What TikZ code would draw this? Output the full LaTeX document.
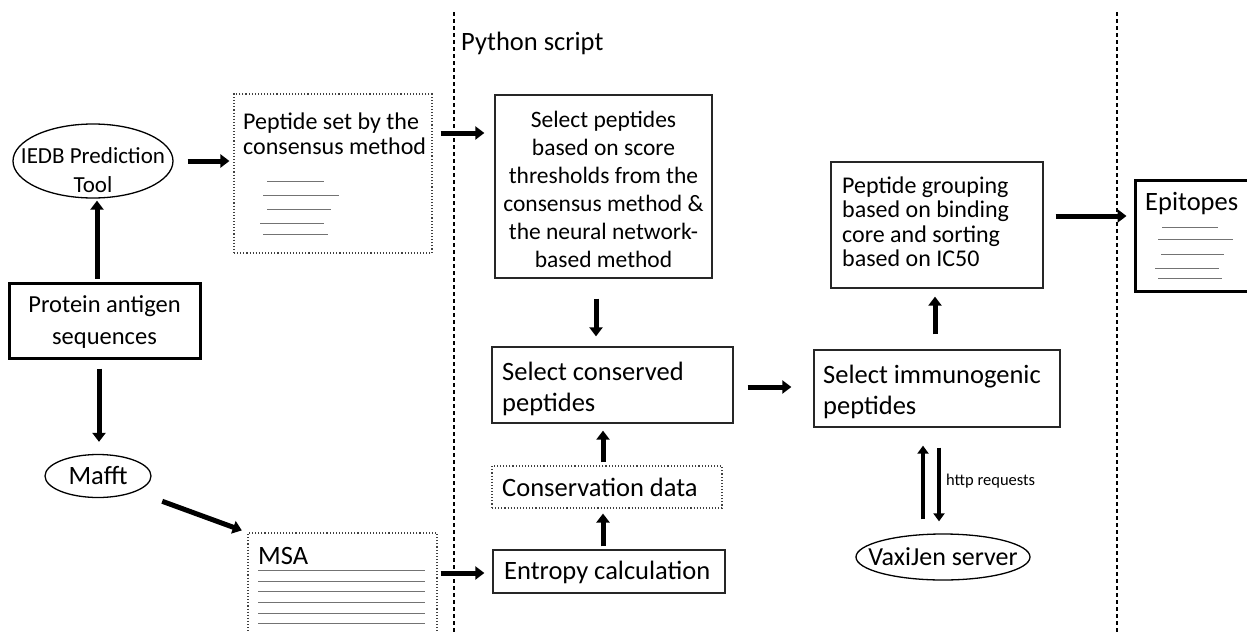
\documentclass[tikz,border=0pt]{standalone}
\usepackage{fontspec}
\setmainfont{Carlito}
\usetikzlibrary{arrows.meta,shapes.geometric,calc}
\begin{document}
\begin{tikzpicture}[x=1pt,y=-1pt,
  txt/.style={font=\fontsize{26.5}{31}\selectfont, inner sep=0pt},
  box/.style={draw=black!85, line width=1.3pt, inner sep=0pt},
  dotbox/.style={draw=black!75, line width=1.1pt, dotted, inner sep=0pt},
  thickbox/.style={draw=black, line width=3pt, inner sep=0pt},
  ell/.style={ellipse, draw=black, line width=1.3pt, inner sep=0pt},
  arr/.style={line width=5pt, -{Triangle[length=9pt,width=13pt]}},
  arrs/.style={line width=4pt, -{Triangle[length=8pt,width=11pt]}},
  gl/.style={draw=black!55, line width=1pt},
  sep/.style={line width=1.2pt, dash pattern=on 4pt off 3pt}
]
\useasboundingbox (0,0) rectangle (1247,632);
\clip (0,0) rectangle (1247,632);

% separators
\coordinate (s1t) at (454,12);
\coordinate (s1b) at (454,632);
\coordinate (s2t) at (1117,12);
\coordinate (s2b) at (1117,632);
\draw[sep] (s1t) -- (s1b);
\draw[sep] (s2t) -- (s2b);
\node[txt, anchor=west] (python) at (461,43) {Python script};

% left column
\node[ell, minimum width=160, minimum height=74] (iedb) at (93,161) {};
\node[txt, align=center, font=\fontsize{23}{29}\selectfont] (iedbtxt) at (93,170) {IEDB Prediction\\Tool};
\node[thickbox, minimum width=191, minimum height=75] (protein) at (104.5,320.5) {};
\node[txt, align=center, font=\fontsize{24.5}{32}\selectfont] (proteintxt) at (104.5,322) {Protein antigen\\sequences};
\node[ell, minimum width=106, minimum height=43, txt] (mafft) at (98,476) {Mafft};

% peptide set box
\node[dotbox, minimum width=198, minimum height=159] (pepset) at (333,173.5) {};
\node[txt, anchor=north west, align=left, font=\fontsize{24}{25}\selectfont] (pepsettxt) at (243,113) {Peptide set by the\\consensus method};
\draw[gl] (267,181) -- (324,181);
\draw[gl] (263,195) -- (339,195);
\draw[gl] (267,209) -- (331,209);
\draw[gl] (260,223) -- (324,223);
\draw[gl] (263,234) -- (328,234);

% MSA box
\node[dotbox, minimum width=189, minimum height=120] (msa) at (342.5,593) {};
\node[txt, anchor=north west] (msatxt) at (258,547) {MSA};
\draw[gl] (258,570) -- (425,570);
\draw[gl] (258,581) -- (425,581);
\draw[gl] (258,591) -- (425,591);
\draw[gl] (258,602) -- (425,602);
\draw[gl] (258,613) -- (425,613);
\draw[gl] (258,623) -- (425,623);

% python column
\node[box, minimum width=217, minimum height=183] (selpep) at (603.5,186.5) {};
\node[txt, align=center, font=\fontsize{23.5}{28}\selectfont] (selpeptxt) at (603.5,189)
  {Select peptides\\based on score\\thresholds from the\\consensus method \&\\the neural network-\\based method};
\node[box, minimum width=241, minimum height=76] (selcons) at (612.5,385) {};
\node[txt, anchor=west, align=left] (selconstxt) at (502,389) {Select conserved\\peptides};
\node[dotbox, minimum width=230, minimum height=42] (consdata) at (607,487) {};
\node[txt, anchor=west] (consdatatxt) at (502,487) {Conservation data};
\node[box, minimum width=232, minimum height=43] (entropy) at (609,571.5) {};
\node[txt, anchor=west] (entropytxt) at (504,572) {Entropy calculation};

% right column
\node[box, minimum width=246, minimum height=77] (immuno) at (937,388.5) {};
\node[txt, anchor=west, align=left] (immunotxt) at (823,392) {Select immunogenic\\peptides};
\node[box, minimum width=212, minimum height=126] (group) at (937,225) {};
\node[txt, anchor=west, align=left, font=\fontsize{24}{24.5}\selectfont] (grouptxt) at (842,222) {Peptide grouping\\based on binding\\core and sorting\\based on IC50};
\node[ell, minimum width=174, minimum height=46] (vaxi) at (943,557) {};
\node[txt, font=\fontsize{26}{30}\selectfont] (vaxitxt) at (943,557) {VaxiJen server};
\node[txt, anchor=west, font=\fontsize{16.5}{18}\selectfont] (http) at (946,481) {http requests};

% epitopes
\node[thickbox, minimum width=130, minimum height=111] (epit) at (1200,235.5) {};
\node[txt, anchor=north west] (epittxt) at (1145,192) {Epitopes};
\draw[gl] (1162,227) -- (1218,227);
\draw[gl] (1158,239) -- (1233,239);
\draw[gl] (1161,254) -- (1224,254);
\draw[gl] (1155,268) -- (1219,268);
\draw[gl] (1158,278) -- (1222,278);

% arrows
\draw[arr, shorten <=3pt, shorten >=2pt] ([xshift=4pt]protein.north -| iedb.south) -- ([xshift=4pt]iedb.south);
\draw[arr, shorten <=9pt, shorten >=12pt] ([xshift=-5.5pt]protein.south) -- ([xshift=-5.5pt]protein.south |- mafft.north);
\draw[arr, shorten <=14pt, shorten >=4pt] (iedb.east) -- (iedb.east -| pepset.west);
\draw[arr, shorten <=8pt, shorten >=10pt] ([yshift=40.5pt]pepset.east) -- ([yshift=40.5pt]pepset.east -| selpep.west);
\draw[arr, shorten <=28pt, shorten >=6pt] (mafft.south east) -- (msa.north west);
\draw[arr, shorten <=3pt, shorten >=8pt] ([yshift=-1.5pt]entropy.west -| msa.east) -- ([yshift=-1.5pt]entropy.west);
\draw[arr, shorten <=3pt, shorten >=5pt] ([xshift=-6pt]entropy.north) -- ([xshift=-6pt]entropy.north |- consdata.south);
\draw[arr, shorten <=3pt, shorten >=7pt] ([xshift=-4pt]consdata.north) -- ([xshift=-4pt]consdata.north |- selcons.south);
\draw[arr, shorten <=20pt, shorten >=10pt] ([xshift=-7.5pt]selpep.south) -- ([xshift=-7.5pt]selpep.south |- selcons.north);
\draw[arr, shorten <=14pt, shorten >=22pt] ([yshift=-2pt]selcons.east) -- ([yshift=-2pt]selcons.east -| immuno.west);
\draw[arr, shorten <=15pt, shorten >=8pt] ([xshift=-2pt]immuno.north) -- ([xshift=-2pt]immuno.north |- group.south);
\draw[arr, shorten <=12pt, shorten >=7pt] ([yshift=9pt]group.east) -- ([yshift=9pt]group.east -| epit.west);
\draw[arrs, shorten <=14pt, shorten >=18pt] ([xshift=-14pt]immuno.south |- vaxi.north) -- ([xshift=-14pt]immuno.south);
\draw[arrs, shorten <=20pt, shorten >=12pt] ([xshift=2pt]immuno.south) -- ([xshift=2pt]immuno.south |- vaxi.north);
\end{tikzpicture}
\end{document}
